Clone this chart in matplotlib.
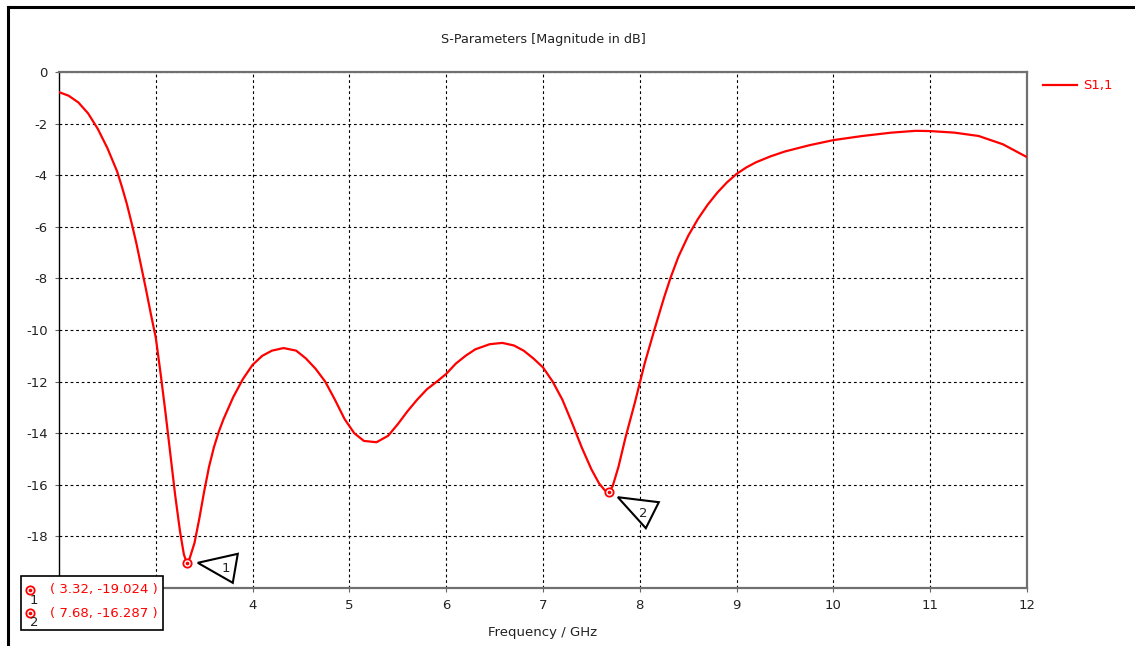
import matplotlib.pyplot as plt
import matplotlib.transforms as mtransforms
from matplotlib.patches import Polygon, Rectangle
from matplotlib.lines import Line2D

plt.rcParams['axes.unicode_minus'] = False

# S1,1 magnitude (dB)
freq = [2.00, 2.10, 2.20, 2.30, 2.40, 2.50, 2.60, 2.65, 2.70, 2.75,
        2.80, 2.85, 2.90, 2.95, 3.00, 3.05, 3.10, 3.15, 3.20, 3.25,
        3.29, 3.32, 3.35, 3.40, 3.45, 3.50, 3.55, 3.60, 3.65, 3.70,
        3.80, 3.90, 4.00, 4.10, 4.20, 4.32, 4.45, 4.55, 4.65, 4.75,
        4.85, 4.95, 5.05, 5.15, 5.28, 5.40, 5.50, 5.60, 5.70, 5.80,
        5.92, 6.00, 6.10, 6.20, 6.30, 6.45, 6.58, 6.70, 6.80, 6.90,
        7.00, 7.10, 7.20, 7.30, 7.40, 7.50, 7.58, 7.64, 7.68, 7.72,
        7.78, 7.85, 7.95, 8.05, 8.15, 8.25, 8.32, 8.40, 8.50, 8.60,
        8.70, 8.80, 8.90, 9.00, 9.10, 9.20, 9.35, 9.50, 9.75, 10.00,
        10.30, 10.60, 10.85, 11.00, 11.25, 11.50, 11.75, 12.00]
s11 = [-0.78, -0.92, -1.18, -1.60, -2.20, -2.95, -3.85, -4.45, -5.10, -5.85,
       -6.65, -7.55, -8.45, -9.40, -10.30, -11.70, -13.20, -14.80, -16.40, -17.80,
       -18.70, -19.024, -18.85, -18.25, -17.30, -16.25, -15.30, -14.55, -13.95, -13.45,
       -12.60, -11.90, -11.35, -11.00, -10.80, -10.70, -10.80, -11.10, -11.50, -12.00,
       -12.70, -13.45, -14.00, -14.30, -14.35, -14.10, -13.65, -13.15, -12.70, -12.30,
       -11.95, -11.70, -11.30, -11.00, -10.75, -10.55, -10.50, -10.60, -10.80, -11.10,
       -11.45, -12.00, -12.70, -13.60, -14.55, -15.40, -15.95, -16.22, -16.287, -16.05,
       -15.30, -14.20, -12.80, -11.30, -10.00, -8.75, -7.95, -7.15, -6.35, -5.70,
       -5.15, -4.68, -4.28, -3.95, -3.70, -3.50, -3.27, -3.08, -2.84, -2.64,
       -2.48, -2.35, -2.28, -2.29, -2.35, -2.48, -2.80, -3.30]

marker_x = [3.32, 7.68]
marker_y = [-19.024, -16.287]
marker_names = ['1', '2']
marker_text = ['( 3.32, -19.024 )', '( 7.68, -16.287 )']

xticks = [4, 5, 6, 7, 8, 9, 10, 11, 12]
yticks = [0, -2, -4, -6, -8, -10, -12, -14, -16, -18]

W, H = 1135, 646
fig = plt.figure(figsize=(W / 100, H / 100), dpi=100)
ax = fig.add_axes([59 / W, 1 - 588 / H, (1027 - 59) / W, (588 - 72) / H])

red = '#ff0000'
ax.plot(freq, s11, color=red, lw=1.6, zorder=3)
ax.plot(marker_x, marker_y, 'o', ms=6, mfc='white', mec=red, mew=1.3, zorder=4)
ax.plot(marker_x, marker_y, 'o', ms=1.6, color=red, zorder=5)

ax.set_xlim(2, 12)
ax.set_ylim(-20, 0)
ax.set_xticks(xticks)
ax.set_yticks(yticks)
ax.set_xticks([3], minor=True)
ax.grid(True, which='both', color='black', ls=(0, (2.5, 2.5)), lw=0.8)
ax.tick_params(which='both', direction='out', length=3, color='#666666',
               labelsize=9.5, labelcolor='#222222', pad=5)
ax.tick_params(axis='x', which='minor', length=0)

for side in ['top', 'right', 'bottom']:
    ax.spines[side].set_color('#707070')
    ax.spines[side].set_linewidth(1.6)
ax.spines['left'].set_color('black')
ax.spines['left'].set_linewidth(1.0)

ax.set_title('S-Parameters [Magnitude in dB]', fontsize=9.2, color='#222222', pad=21)
ax.set_xlabel('Frequency / GHz', fontsize=9.5, color='#222222', labelpad=10)

# callout triangles next to the markers (offsets in pixels)
tri_offsets = [[(11, 0), (51, 9), (46, -20)], [(9, -5), (50, -10), (37, -36)]]
label_offsets = [(39, -6), (34, -21)]
for mx, my, name, tri, lab in zip(marker_x, marker_y, marker_names, tri_offsets, label_offsets):
    tr = mtransforms.ScaledTranslation(mx, my, ax.transData)
    base = mtransforms.IdentityTransform() + tr
    ax.add_patch(Polygon(tri, closed=True, fc='white', ec='black', lw=1.5,
                         transform=base, clip_on=False, zorder=6))
    ax.text(lab[0], lab[1], name, transform=base, fontsize=9.5, color='#222222',
            ha='center', va='center', zorder=7)

# figure-level items in pixel coordinates (y down)
def fx(px):
    return px / W

def fy(py):
    return 1 - py / H

# outer frame
fig.add_artist(Line2D([fx(8), fx(8)], [fy(646), fy(7)], color='black', lw=2.2))
fig.add_artist(Line2D([fx(8), fx(1135)], [fy(7), fy(7)], color='black', lw=2.2))

# legend for S1,1
fig.add_artist(Line2D([fx(1043), fx(1077)], [fy(85), fy(85)], color=red, lw=1.6))
fig.text(fx(1083), fy(85), 'S1,1', color=red, fontsize=9.5, va='center')

# marker table
fig.add_artist(Rectangle((fx(21), fy(630)), fx(163) - fx(21), fy(576) - fy(630),
                         transform=fig.transFigure, fc='white', ec='black', lw=1.2, zorder=10))
for i, (name, txt) in enumerate(zip(marker_names, marker_text)):
    ry = 590 + i * 23
    fig.add_artist(Line2D([fx(30)], [fy(ry)], marker='o', ms=6, mfc='white',
                          mec=red, mew=1.3, zorder=11))
    fig.add_artist(Line2D([fx(30)], [fy(ry)], marker='o', ms=1.6, color=red, zorder=12))
    fig.text(fx(34), fy(ry + 10), name, fontsize=9.5, color='#222222',
             ha='center', va='center', zorder=12)
    fig.text(fx(50), fy(ry), txt, fontsize=9.5, color=red, va='center', zorder=12)

plt.savefig('out.png', dpi=100)
